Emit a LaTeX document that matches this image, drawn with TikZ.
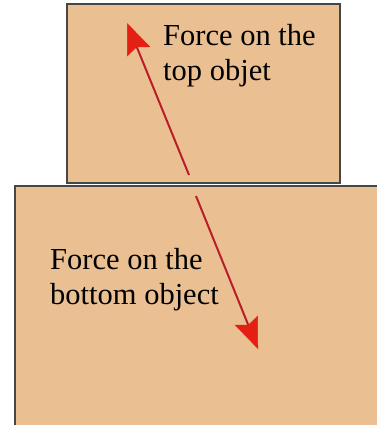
\documentclass[tikz,border=0pt]{standalone}
\usepackage{fontspec}
\setmainfont{Liberation Serif}
\usetikzlibrary{arrows.meta}
\definecolor{boxfill}{RGB}{234,192,147}
\definecolor{boxline}{RGB}{70,70,70}
\definecolor{shaft}{RGB}{185,30,40}
\definecolor{headred}{RGB}{228,32,18}
\begin{document}
\begin{tikzpicture}[x=1pt,y=-1pt,
  block/.style={draw=boxline,line width=1.2pt,fill=boxfill},
  force/.style={draw=shaft,line width=2pt,-{Stealth[length=31pt,width=25pt,inset=5pt,color=headred,fill=headred,line width=0.5pt]}},
  lbl/.style={inner sep=0pt,align=left,font=\fontsize{30.5}{35}\selectfont,anchor=base west}]
\useasboundingbox (0,0) rectangle (376,425);
\path[block] (15,186) rectangle (378,427);
\path[block] (67,4) rectangle (340,183);
\coordinate (t1) at (189,175);
\coordinate (h1) at (127,23);
\coordinate (t2) at (196,196);
\coordinate (h2) at (258,349);
\draw[force] (t1) -- (h1);
\draw[force] (t2) -- (h2);
\node[lbl] (top1) at (163,46) {Force on the};
\node[lbl] (top2) at (163,81) {top objet};
\node[lbl] (bot1) at (50,269) {Force on the};
\node[lbl] (bot2) at (50,304) {bottom object};
\end{tikzpicture}
\end{document}
